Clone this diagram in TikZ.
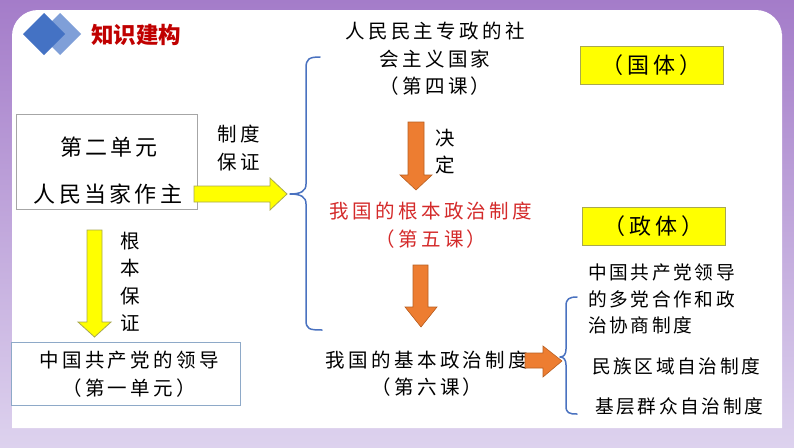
\documentclass[tikz,border=0pt]{standalone}
\usepackage{fontspec}
\newfontfamily\cjkA[LetterSpace=17]{Noto Sans CJK SC}
\newfontfamily\cjkC[LetterSpace=15]{Noto Sans CJK SC}
\newfontfamily\cjkB[LetterSpace=14]{Noto Sans CJK SC}
\newfontfamily\cjkH{Noto Sans CJK SC}
\definecolor{bgtop}{HTML}{A47CC9}
\definecolor{bgbot}{HTML}{DDD2EE}
\definecolor{headred}{HTML}{C00000}
\definecolor{txtred}{HTML}{D42A2A}
\definecolor{dblue}{HTML}{4472C4}
\definecolor{lblue}{HTML}{7F9FD8}
\definecolor{braceblue}{HTML}{4A72C0}
\definecolor{yel}{HTML}{FFFF00}
\definecolor{yelborder}{HTML}{A8A850}
\definecolor{orng}{HTML}{ED7D31}
\definecolor{orngborder}{HTML}{B85E20}
\definecolor{boxgray}{HTML}{A6A6A6}
\definecolor{boxblue}{HTML}{8EA9C8}
\tikzset{
  txt/.style={inner sep=0pt, font=\cjkA\fontsize{19.5}{27.5}\selectfont, align=center},
  bigtxt/.style={inner sep=0pt, font=\cjkC\fontsize{22}{27}\selectfont},
  listtxt/.style={inner sep=0pt, font=\cjkB\fontsize{18.7}{26.5}\selectfont, align=left},
  yelarrow/.style={fill=yel, draw=yelborder, line width=0.8pt},
  orarrow/.style={fill=orng, draw=orngborder, line width=0.6pt},
  yelbox/.style={fill=yel, draw=yelborder, line width=0.8pt, minimum width=143pt, minimum height=38pt, inner sep=0pt, font=\cjkA\fontsize{22}{24}\selectfont},
  brace/.style={draw=braceblue, line width=1.5pt, line cap=round, line join=round},
}
\begin{document}
\begin{tikzpicture}[x=1pt,y=-1pt]
\useasboundingbox (0,0) rectangle (794,447);
% background
\fill[top color=bgtop, bottom color=bgbot] (0,0) rectangle (794,447);
\fill[white] (12,428) [rounded corners=26] -- (12,10) -- (782,10) -- (782,60) [sharp corners] -- (782,428) -- cycle;
% logo
\fill[lblue] (60,13) -- (81,34) -- (60,55) -- (39,34) -- cycle;
\fill[dblue] (44,13) -- (65,34) -- (44,55) -- (23,34) -- cycle;
\node[inner sep=0pt, font=\cjkH\bfseries\fontsize{22.5}{24}\selectfont, text=headred, anchor=west] (title) at (91,35) {知识建构};
% unit 2 box
\node[draw=boxgray, line width=0.8pt, minimum width=181pt, minimum height=95pt, inner sep=0pt] (unit2) at (106.5,162) {};
\node[bigtxt] (u2a) at (109,147) {第二单元};
\node[bigtxt] (u2b) at (108,194) {人民当家作主};
% unit 1 box
\node[draw=boxblue, line width=0.8pt, minimum width=229pt, minimum height=63pt, inner sep=0pt] (unit1) at (125.5,373.5) {};
\node[txt] (u1) at (129,374) {中国共产党的领导\\（第一单元）};
% yellow right arrow
\fill[yelarrow] (194,186) -- (270,186) -- (270,178) -- (287,194) -- (270,210) -- (270,202) -- (194,202) -- cycle;
\node[txt, align=left] (zdbz) at (239,148) {制度\\保证};
% yellow down arrow
\fill[yelarrow] (87,230) -- (102,230) -- (102,322) -- (111,322) -- (94.5,337) -- (78,322) -- (87,322) -- cycle;
\node[txt, align=center] (gbbz) at (130,282) {根\\本\\保\\证};
% big brace
\draw[brace] (320,57) .. controls (309,57) and (306,59) .. (306,68) -- (306,184) .. controls (306,191) and (301,194) .. (290,194) .. controls (301,194) and (306,197) .. (306,204) -- (306,320) .. controls (306,329) and (309,330) .. (322,330);
% right column
\node[txt] (l4) at (435,59) {人民民主专政的社\\会主义国家\\（第四课）};
\fill[orarrow] (408,122) -- (424,122) -- (424,175) -- (432,175) -- (416,190) -- (400,175) -- (408,175) -- cycle;
\node[txt] (jd) at (445,151.5) {决\\定};
\node[txt, text=txtred] (l5) at (431,225) {我国的根本政治制度\\（第五课）};
\fill[orarrow] (413,265) -- (428,265) -- (428,307) -- (437,307) -- (421,327) -- (405,307) -- (413,307) -- cycle;
\node[txt] (l6) at (427,373.5) {我国的基本政治制度\\（第六课）};
\fill[orarrow] (525,353) -- (543,353) -- (543,346) -- (562,361) -- (543,377) -- (543,368) -- (525,368) -- cycle;
% small brace
\draw[brace] (577,297) .. controls (569,297) and (566,299) .. (566,306) -- (566,349) .. controls (566,354) and (564,357) .. (560,357) .. controls (564,357) and (566,360) .. (566,365) -- (566,406) .. controls (566,413) and (569,414) .. (577,414);
% yellow boxes
\node[yelbox] (guoti) at (651.5,65.5) {（国体）};
\node[yelbox] (zhengti) at (653.5,226.5) {（政体）};
% list
\node[listtxt, anchor=west] (s1) at (588,299) {中国共产党领导\\的多党合作和政\\治协商制度};
\node[listtxt, anchor=west] (s2) at (592,366) {民族区域自治制度};
\node[listtxt, anchor=west] (s3) at (595,406) {基层群众自治制度};
\end{tikzpicture}
\end{document}
